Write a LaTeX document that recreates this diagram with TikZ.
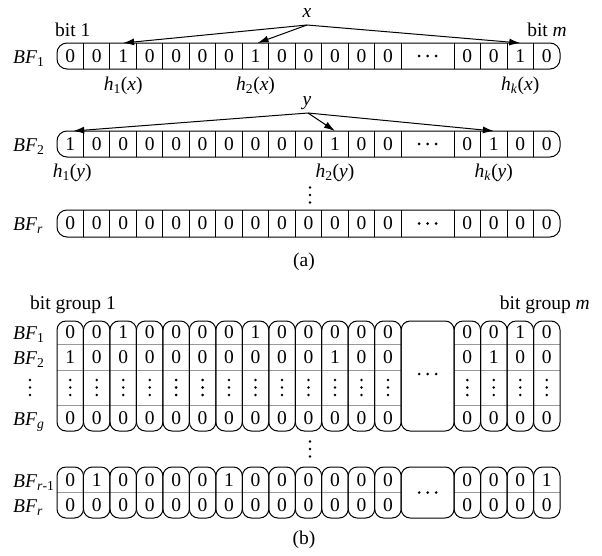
\documentclass[tikz,border=0pt]{standalone}
\usepackage{fontspec}
\setmainfont{Liberation Serif}
\usetikzlibrary{arrows.meta}
\newcommand\BFl[1]{\textit{BF}\textsubscript{#1}}
\newcommand\hl[2]{\textit{h}\textsubscript{#1}(\textit{#2})}
\def\xo{57}
\def\cw{26.474}
% row of values: #1 name, #2 centre y, #3 values
\newcommand\valrow[3]{%
  \foreach \v [count=\k from 0] in {#3} {%
    \pgfmathtruncatemacro\p{\k<13 ? \k : \k+2}
    \node (#1-\k) at ({\xo+(\p+0.5)*\cw},{#2}) {\v};
  }%
}
% horizontal dots at centre y
\newcommand\hdots[2]{%
  \foreach \d in {-8.5,0,8.5} \fill ({\xo+#1*\cw+\d},{#2}) circle (1.4);
}
% vertical dots at x, y
\newcommand\vdotsat[2]{%
  \foreach \d in {-7.5,0,7.5} \fill ({#1},{#2+\d}) circle (1.4);
}
% bloom filter row (a): #1 name, #2 top, #3 bottom, #4 values
\newcommand\rowa[4]{%
  \draw[bitbox] (\xo,#2) rectangle (560,#3);
  \foreach \i in {1,...,13,15,16,17,18}
    \draw[sepline] ({\xo+\i*\cw},#2) -- ({\xo+\i*\cw},#3);
  \valrow{#1}{(#2+#3)/2}{#4}
  \hdots{14}{(#2+#3)/2}
}
% columns (b): #1 top, #2 bottom
\newcommand\colsb[2]{%
  \foreach \i in {0,...,12,15,16,17,18}
    \draw[colbox] ({\xo+\i*\cw},#1) rectangle ({\xo+(\i+1)*\cw},#2);
  \draw[colbox] ({\xo+13*\cw},#1) rectangle ({\xo+15*\cw},#2);
}
\newcommand\grayb[1]{%
  \draw[grayline] (\xo,#1) -- ({\xo+13*\cw},#1);
  \draw[grayline] ({\xo+15*\cw},#1) -- (560,#1);
}
\begin{document}
\begin{tikzpicture}[x=1pt,y=-1pt,
  every node/.style={font=\fontsize{19.5}{22}\selectfont, inner sep=0pt},
  bitbox/.style={draw, line width=1pt, rounded corners=10pt},
  colbox/.style={draw, line width=1pt, rounded corners=9pt},
  sepline/.style={draw, line width=1pt},
  grayline/.style={draw=black!40, line width=1pt},
  arr/.style={line width=1pt, -{Latex[length=11pt,width=7pt]}},
  lbl/.style={anchor=base west}]
\useasboundingbox (0,0) rectangle (602,555);

% ---------------- (a) ----------------
\node[anchor=base west] (bit1) at (55,36) {bit 1};
\node[anchor=base east] (bitm) at (567,36) {bit \textit{m}};
\node[anchor=base] (xl) at (307,17) {\textit{x}};
\coordinate (xo) at (307,25);

\rowa{a}{43}{69}{0,0,1,0,0,0,0,1,0,0,0,0,0,0,0,1,0}
\node[lbl] (la1) at (13,63) {\BFl{1}};
\draw[arr] (xo) -- (a-2.north |- 0,43);
\draw[arr] (xo) -- ([xshift=2pt]a-7.north |- 0,43);
\draw[arr] (xo) -- (a-15.north |- 0,43);
\node[anchor=base] (h1x) at (a-2 |- 0,90) {\hl{1}{x}};
\node[anchor=base] (h2x) at (a-7 |- 0,90) {\hl{2}{x}};
\node[anchor=base] (hkx) at (a-15 |- 0,90) {\hl{\textit{k}}{x}};

\node[anchor=base] (yl) at (307,105) {\textit{y}};
\coordinate (yo) at (308,113);
\rowa{b}{131}{157}{1,0,0,0,0,0,0,0,0,0,1,0,0,0,1,0,0}
\node[lbl] (la2) at (13,151) {\BFl{2}};
\draw[arr] (yo) -- ([xshift=3pt]b-0.north |- 0,131);
\draw[arr] (yo) -- (b-10.north |- 0,131);
\draw[arr] (yo) -- (b-14.north |- 0,131);
\node[anchor=base] (h1y) at ([xshift=2pt]b-0 |- 0,177) {\hl{1}{y}};
\node[anchor=base] (h2y) at (b-10 |- 0,177) {\hl{2}{y}};
\node[anchor=base] (hky) at (b-14 |- 0,177) {\hl{\textit{k}}{y}};

\vdotsat{310}{195}

\rowa{c}{210}{237}{0,0,0,0,0,0,0,0,0,0,0,0,0,0,0,0,0}
\node[lbl] (lar) at (13,230) {\BFl{\textit{r}}};

\node (capa) at (304,262) {(a)};

% ---------------- (b) ----------------
\node[anchor=base west] (bg1) at (30,309) {bit group 1};
\node[anchor=base east] (bgm) at (590,309) {bit group \textit{m}};

\grayb{344}
\grayb{370}
\grayb{405}
\colsb{321}{431}
\valrow{d}{332.5}{0,0,1,0,0,0,0,1,0,0,0,0,0,0,0,1,0}
\valrow{e}{357}{1,0,0,0,0,0,0,0,0,0,1,0,0,0,1,0,0}
\foreach \i in {0,...,12,15,16,17,18} {\vdotsat{\xo+(\i+0.5)*\cw}{387.5}}
\valrow{f}{418}{0,0,0,0,0,0,0,0,0,0,0,0,0,0,0,0,0}
\hdots{14}{374}
\node[lbl] (lb1) at (13,339.5) {\BFl{1}};
\node[lbl] (lb2) at (13,364) {\BFl{2}};
\vdotsat{30}{387.5}
\node[lbl] (lbg) at (13,425) {\BFl{\textit{g}}};

\vdotsat{310}{449}

\grayb{492.5}
\colsb{467}{518}
\valrow{g}{480}{0,1,0,0,0,0,1,0,0,0,0,0,0,0,0,0,1}
\valrow{h}{505}{0,0,0,0,0,0,0,0,0,0,0,0,0,0,0,0,0}
\hdots{14}{492.5}
\node[lbl] (lbr1) at (13,487) {\BFl{\textit{r}-1}};
\node[lbl] (lbr) at (13,512) {\BFl{\textit{r}}};

\node (capb) at (304,540) {(b)};
\end{tikzpicture}
\end{document}
